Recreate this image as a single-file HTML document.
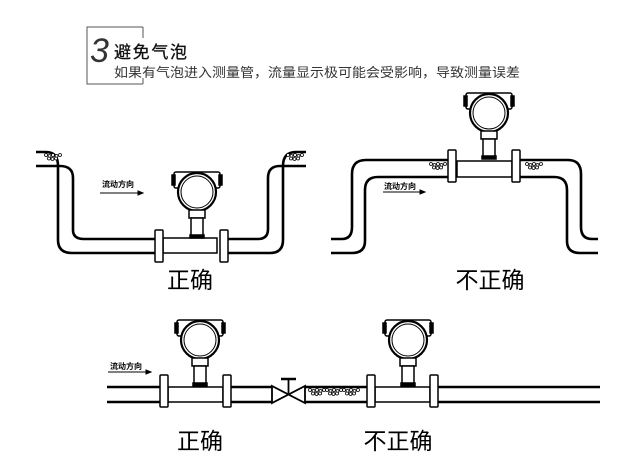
<!DOCTYPE html>
<html><head><meta charset="utf-8"><style>
html,body{margin:0;padding:0;background:#fff;width:634px;height:464px;overflow:hidden}
svg{display:block}
.t{font-family:"Liberation Sans","Noto Sans CJK SC",sans-serif}
</style></head><body>
<svg width="634" height="464" viewBox="0 0 634 464" xmlns="http://www.w3.org/2000/svg">
<defs>
<g id="m" fill="#fff" stroke="#000" stroke-width="1.5">
  <rect x="-23" y="-20" width="46" height="16" rx="2"/>
  <rect x="-25" y="-17" width="3" height="10" fill="#000"/>
  <rect x="22" y="-17" width="3" height="10" fill="#000"/>
  <circle cx="0" cy="0" r="19" stroke-width="2.2"/>
  <circle cx="0" cy="0" r="16" stroke-width="1"/>
  <rect x="-8" y="18" width="16" height="8"/>
  <rect x="-6" y="26" width="12" height="19"/>
  <rect x="-7" y="43" width="14" height="3" fill="#000"/>
</g>
<g id="fl" fill="#fff" stroke="#000" stroke-width="1.5">
  <rect x="0" y="0" width="8" height="32" rx="1"/>
</g>
<g id="b" fill="#fff" stroke="#000" stroke-width="0.8">
  <circle cx="0" cy="0" r="1.5"/><circle cx="3.5" cy="1" r="1.5"/><circle cx="7" cy="0" r="1.5"/><circle cx="10.5" cy="1" r="1.5"/><circle cx="14" cy="0" r="1.5"/>
  <circle cx="3" cy="3.5" r="1.5"/><circle cx="6.5" cy="4" r="1.5"/><circle cx="10" cy="3.5" r="1.5"/>
</g>
</defs>

<path d="M143 27 H87 V84 H143" fill="none" stroke="#555" stroke-width="1"/>
<line x1="143" y1="27" x2="143" y2="38" stroke="#555"/>
<line x1="143" y1="78" x2="143" y2="84" stroke="#555"/>
<text x="90" y="62" class="t" font-size="34" font-style="italic" fill="#333">3</text>
<text x="114" y="58" class="t" font-size="17" fill="#111" stroke="#111" stroke-width="0.3" textLength="73">避免气泡</text>
<text x="114" y="77" class="t" font-size="13" fill="#333" textLength="406" lengthAdjust="spacingAndGlyphs">如果有气泡进入测量管，流量显示极可能会受影响，导致测量误差</text>

<g fill="none" stroke="#000" stroke-width="2.6">
<path d="M36 152 H46 Q58 152 58 166 V240 Q58 253 72 253 H156"/>
<path d="M36 166 H60 Q73 166 73 178 V230 Q73 239 84 239 H156"/>
<path d="M228 253 H270 Q283 253 283 240 V166 Q283 152 296 152 H306"/>
<path d="M228 239 H258 Q268 239 268 229 V178 Q268 166 280 166 H306"/>
<rect x="163" y="238" width="54" height="15" stroke-width="1.5" fill="#fff"/>
<path d="M331 239 H342 Q352 239 352 227 V174 Q352 160 366 160 H449"/>
<path d="M331 253 H352 Q365 253 365 241 V190 Q365 177 378 177 H449"/>
<path d="M520 160 H568 Q581 160 581 174 V227 Q581 239 592 239 H598"/>
<path d="M520 177 H554 Q567 177 567 190 V241 Q567 253 580 253 H598"/>
<rect x="457" y="161" width="55" height="16" stroke-width="1.5" fill="#fff"/>
<path d="M107 387 H160 M107 402 H160"/>
<rect x="168" y="387" width="55" height="15" stroke-width="1.5" fill="#fff"/>
<path d="M231 387 H272 M231 402 H272"/>
<path d="M305 387 H367 M305 402 H367"/>
<rect x="375" y="387" width="55" height="15" stroke-width="1.5" fill="#fff"/>
<path d="M438 387 H600 M438 402 H600"/>
</g>
<g fill="none" stroke="#000" stroke-width="1.8">
<path d="M272 386 V403 L305 386 V403 Z"/>
<line x1="288.5" y1="394" x2="288.5" y2="379"/>
<line x1="281" y1="379" x2="296" y2="379" stroke-width="2.5"/>
</g>

<use href="#fl" x="155" y="230"/><use href="#fl" x="220" y="230"/>
<use href="#fl" x="448" y="150"/><use href="#fl" x="512" y="150"/>
<use href="#fl" x="160" y="375"/><use href="#fl" x="223" y="375"/>
<use href="#fl" x="367" y="375"/><use href="#fl" x="430" y="375"/>
<use href="#m" x="197" y="192"/>
<use href="#m" x="489" y="113"/>
<use href="#m" x="200" y="340"/>
<use href="#m" x="408" y="340"/>

<use href="#b" x="46" y="155"/>
<use href="#b" x="288" y="155"/>
<use href="#b" x="431" y="164"/>
<use href="#b" x="527" y="164"/>
<use href="#b" x="310" y="390"/><use href="#b" x="327" y="390"/><use href="#b" x="344" y="390"/>

<g class="t" font-size="8" font-weight="bold" fill="#000">
<text x="102" y="187">流动方向</text>
<text x="384" y="189">流动方向</text>
<text x="110" y="369">流动方向</text>
</g>
<g stroke="#000" stroke-width="1">
<line x1="100" y1="193" x2="142" y2="193"/><path d="M138 191 L143 193 L138 195Z"/>
<line x1="383" y1="192" x2="424" y2="192"/><path d="M420 190 L425 192 L420 194Z"/>
<line x1="108" y1="372" x2="150" y2="372"/><path d="M146 370 L151 372 L146 374Z"/>
</g>

<g class="t" font-size="23" fill="#000" text-anchor="middle">
<text x="190" y="288">正确</text>
<text x="490" y="288">不正确</text>
<text x="200" y="449">正确</text>
<text x="398" y="449">不正确</text>
</g>
</svg>
</body></html>
